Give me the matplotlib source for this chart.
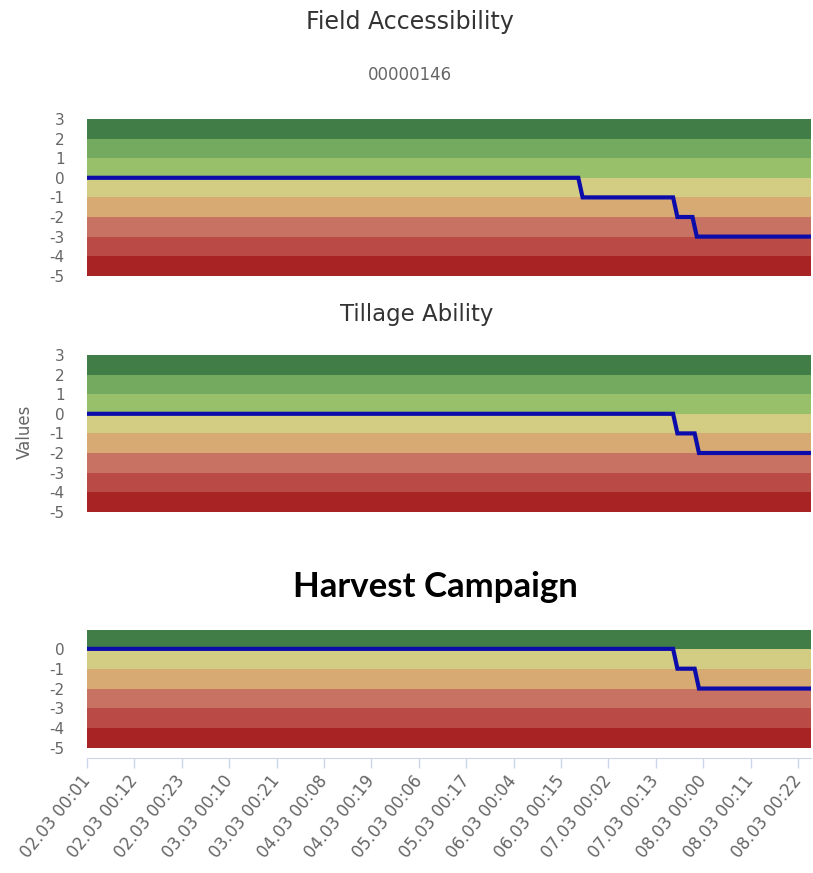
import matplotlib
matplotlib.use("Agg")
import matplotlib.pyplot as plt

plt.rcParams['axes.unicode_minus'] = False
plt.rcParams['font.family'] = ['DejaVu Sans']

# band tops (each band spans top-1 .. top) and their colours
band_tops = [3, 2, 1, 0, -1, -2, -3, -4]
band_colors = ['#417d46', '#73aa5f', '#98bf6a', '#d3cc83',
               '#d7aa74', '#c87263', '#b94a46', '#a72324']

# harvest panel only has one green band above 0
harvest_band_tops = [1, 0, -1, -2, -3, -4]
harvest_band_colors = ['#417d46', '#d3cc83', '#d7aa74', '#c87263', '#b94a46', '#a72324']

# hours since 02.03 01:00, value at each break point
field_hours = [0, 114, 115, 136, 137, 140.5, 141.5, 168]
field_values = [0, 0, -1, -1, -2, -2, -3, -3]

tillage_hours = [0, 136, 137, 141, 142, 168]
tillage_values = [0, 0, -1, -1, -2, -2]

harvest_hours = [0, 136, 137, 141, 142, 168]
harvest_values = [0, 0, -1, -1, -2, -2]

tick_hours = [0, 11, 22, 33, 44, 55, 66, 77, 88, 99, 110, 121, 132, 143, 154, 165]
tick_labels = ['02.03 00:01', '02.03 00:12', '02.03 00:23', '03.03 00:10',
               '03.03 00:21', '04.03 00:08', '04.03 00:19', '05.03 00:06',
               '05.03 00:17', '06.03 00:04', '06.03 00:15', '07.03 00:02',
               '07.03 00:13', '08.03 00:00', '08.03 00:11', '08.03 00:22']

W, H = 813, 873
fig = plt.figure(figsize=(W / 100, H / 100), dpi=100)


def px_axes(left, top, right, bottom):
    return fig.add_axes([left / W, 1 - bottom / H, (right - left) / W, (bottom - top) / H])


def setup(ax, tops, colors, hours, values, ymin, ymax, yticks):
    for top, c in zip(tops, colors):
        ax.axhspan(top - 1, top, color=c, lw=0)
    ax.plot(hours, values, color='#0c0caa', lw=3, solid_joinstyle='miter')
    ax.set_xlim(0, 168)
    ax.set_ylim(ymin, ymax)
    ax.set_yticks(yticks)
    ax.tick_params(axis='y', length=0, pad=16, labelsize=11, labelcolor='#666666')
    for s in ax.spines.values():
        s.set_visible(False)


ax1 = px_axes(87, 119, 811, 285.6)
setup(ax1, band_tops, band_colors, field_hours, field_values, -5.5, 3, range(3, -6, -1))
ax1.set_xticks([])

ax2 = px_axes(87, 355, 811, 521.6)
setup(ax2, band_tops, band_colors, tillage_hours, tillage_values, -5.5, 3, range(3, -6, -1))
ax2.set_xticks([])

ax3 = px_axes(87, 630, 811, 758)
setup(ax3, harvest_band_tops, harvest_band_colors, harvest_hours, harvest_values,
      -5.5, 0.95, range(0, -6, -1))
ax3.spines['bottom'].set_visible(True)
ax3.spines['bottom'].set_color('#ccd6eb')
ax3.set_xticks(tick_hours)
ax3.set_xticklabels(tick_labels, rotation=51, ha='right', va='center',
                    rotation_mode='anchor', fontsize=12, color='#666666')
ax3.tick_params(axis='x', length=7, width=1, color='#ccd6eb', pad=7)

fig.text(410 / W, 1 - 29 / H, 'Field Accessibility', ha='center', va='baseline',
         fontsize=17, color='#333333')
fig.text(410 / W, 1 - 80 / H, '00000146', ha='center', va='baseline',
         fontsize=12, color='#666666')
fig.text(417 / W, 1 - 321 / H, 'Tillage Ability', ha='center', va='baseline',
         fontsize=16.5, color='#333333')
fig.text(435 / W, 1 - 597 / H, 'Harvest Campaign', ha='center', va='baseline',
         fontsize=25, fontweight='bold', family=['Lato', 'DejaVu Sans'], color='black')
fig.text(25 / W, 1 - 432 / H, 'Values', rotation=90, ha='center', va='center',
         fontsize=12, color='#666666')

fig.savefig('out.png', dpi=100, facecolor='white')
